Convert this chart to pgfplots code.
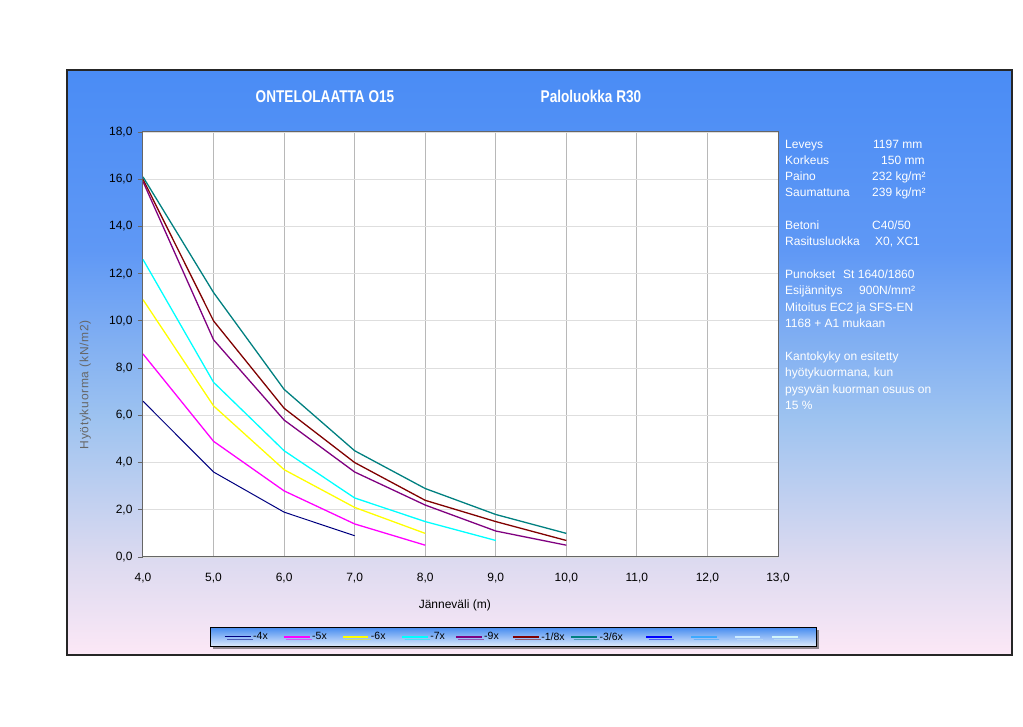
\documentclass[border=0pt]{standalone}
\usepackage{fontspec}
\setmainfont{Liberation Sans}
\usepackage{pgfplots}
\pgfplotsset{compat=1.18}
\usetikzlibrary{shadows}

\definecolor{cpink}{RGB}{252,232,246}
\definecolor{clav}{RGB}{220,218,240}
\definecolor{clb}{RGB}{158,195,240}
\definecolor{cmid}{RGB}{95,152,245}
\definecolor{ctop}{RGB}{74,140,245}
\pgfdeclareverticalshading{bgshade}{100bp}{color(0bp)=(cpink); color(25bp)=(cpink); color(33.1bp)=(clav); color(45.1bp)=(clb); color(59.6bp)=(cmid); color(75bp)=(ctop); color(100bp)=(ctop)}

\definecolor{c4x}{RGB}{0,0,128}
\definecolor{c5x}{RGB}{255,0,255}
\definecolor{c6x}{RGB}{255,255,0}
\definecolor{c7x}{RGB}{0,255,255}
\definecolor{c9x}{RGB}{128,0,128}
\definecolor{c18x}{RGB}{128,0,0}
\definecolor{c36x}{RGB}{0,128,128}
\definecolor{cex1}{RGB}{0,0,255}
\definecolor{cex2}{RGB}{60,170,255}
\definecolor{cex3}{RGB}{205,235,255}
\definecolor{cex4}{RGB}{210,245,250}
\definecolor{legtop}{RGB}{70,140,240}
\definecolor{legbot}{RGB}{225,236,252}

\begin{document}
\begin{tikzpicture}
\path[use as bounding box, fill=white] (0pt,0pt) rectangle (1023pt,726pt);
\path[shading=bgshade] (67pt,71pt) rectangle (1012pt,656pt);
\draw[line width=1.5pt, black!85] (67pt,71pt) rectangle (1012pt,656pt);

% titles
\node[text=white, font=\bfseries\fontsize{17}{19}\selectfont] at (325pt,629pt) {\scalebox{0.8}[1]{ONTELOLAATTA O15}};
\node[text=white, font=\bfseries\fontsize{17}{19}\selectfont] at (591pt,630pt) {\scalebox{0.8}[1]{Paloluokka R30}};

% info panel
\begin{scope}[every node/.style={text=white, font=\fontsize{12}{14}\selectfont, inner sep=0pt, anchor=base west}]
\node at (785pt,577.5pt) {Leveys};      \node at (873pt,577.5pt) {1197 mm};
\node at (785pt,561.5pt) {Korkeus};     \node at (881pt,561.5pt) {150 mm};
\node at (785pt,545.5pt) {Paino};       \node at (872pt,545.5pt) {232 kg/m²};
\node at (785pt,529.5pt) {Saumattuna};  \node at (872pt,529.5pt) {239 kg/m²};
\node at (785pt,496.5pt) {Betoni};      \node at (872pt,496.5pt) {C40/50};
\node at (785pt,480.5pt) {Rasitusluokka}; \node at (875pt,480.5pt) {X0, XC1};
\node at (785pt,447.5pt) {Punokset};    \node at (843pt,447.5pt) {St 1640/1860};
\node at (785pt,431.5pt) {Esijännitys}; \node at (859pt,431.5pt) {900N/mm²};
\node at (785pt,414.5pt) {Mitoitus EC2 ja SFS-EN};
\node at (785pt,398.5pt) {1168 + A1 mukaan};
\node at (785pt,365.5pt) {Kantokyky on esitetty};
\node at (785pt,349.5pt) {hyötykuormana, kun};
\node at (785pt,332.5pt) {pysyvän kuorman osuus on};
\node at (785pt,316.5pt) {15 \%};
\end{scope}

\begin{axis}[
  at={(143pt,169pt)}, anchor=south west,
  scale only axis, width=635pt, height=425pt,
  xmin=4, xmax=13, ymin=0, ymax=18,
  xtick={4,5,...,13}, ytick={0,2,...,18},
  ytick pos=left,
  grid=major,
  major x grid style={draw=black!28, line width=1pt},
  major y grid style={draw=black!13, line width=0.8pt},
  axis line style={draw=black!60, line width=1pt},
  axis background/.style={fill=white},
  tick align=outside, major tick length=5pt,
  xtick style={draw=none},
  ytick style={draw=black!60, line width=0.8pt},
  tick label style={font=\fontsize{12}{14}\selectfont},
  yticklabel style={xshift=-2pt},
  xticklabel style={yshift=-8pt},
  /pgf/number format/fixed, /pgf/number format/fixed zerofill,
  /pgf/number format/precision=1, /pgf/number format/use comma,
  /pgf/number format/assume math mode=true,
  xlabel={Jänneväli (m)},
  xlabel style={at={(axis description cs:0.491,-0.1129)}, anchor=center, font=\fontsize{12}{14}\selectfont},
  ylabel={Hyötykuorma (kN/m2)},
  ylabel style={at={(axis description cs:-0.091,0.405)}, anchor=center, text=black!60, font=\fontsize{12}{14}\selectfont\addfontfeature{LetterSpace=6}},
  legend columns=11,
  legend image code/.code={\draw[#1] (0pt,0pt) -- (25.7pt,0pt);},
  legend style={at={(0.1055,-0.1882)}, anchor=west, draw=black, line width=1pt,
    top color=legtop, bottom color=legbot,
    drop shadow={shadow xshift=2.5pt, shadow yshift=-2.5pt, fill=black!85},
    inner xsep=14pt, inner ysep=3pt,
    font=\fontsize{10.5}{12}\selectfont,
    /tikz/every even column/.append style={column sep=0pt}},
]
\addplot[c4x, line width=1pt] coordinates {(4,6.6) (5,3.6) (6,1.9) (7,0.9)};
\addlegendentry{\makebox[28pt][l]{-4x}}
\addplot[c5x, line width=1.3pt] coordinates {(4,8.6) (5,4.9) (6,2.8) (7,1.4) (8,0.5)};
\addlegendentry{\makebox[27.8pt][l]{-5x}}
\addplot[c6x, line width=1.3pt] coordinates {(4,10.9) (5,6.4) (6,3.7) (7,2.1) (8,1.0)};
\addlegendentry{\makebox[28.4pt][l]{-6x}}
\addplot[c7x, line width=1.3pt] coordinates {(4,12.6) (5,7.4) (6,4.5) (7,2.5) (8,1.5) (9,0.7)};
\addlegendentry{\makebox[22.8pt][l]{-7x}}
\addplot[c9x, line width=1.3pt] coordinates {(4,15.9) (5,9.2) (6,5.8) (7,3.6) (8,2.2) (9,1.1) (10,0.5)};
\addlegendentry{\makebox[26.1pt][l]{-9x}}
\addplot[c18x, line width=1.3pt] coordinates {(4,16.0) (5,10.0) (6,6.3) (7,4.0) (8,2.4) (9,1.5) (10,0.7)};
\addlegendentry{\makebox[27.3pt][l]{-1/8x}}
\addplot[c36x, line width=1.3pt] coordinates {(4,16.1) (5,11.2) (6,7.1) (7,4.5) (8,2.9) (9,1.8) (10,1.0)};
\addlegendentry{\makebox[43.8pt][l]{-3/6x}}
\addlegendimage{cex1, line width=1.3pt}
\addlegendentry{\makebox[14.2pt]{}}
\addlegendimage{cex2, line width=1.3pt}
\addlegendentry{\makebox[12.3pt]{}}
\addlegendimage{cex3, line width=1.3pt}
\addlegendentry{\makebox[6.3pt]{}}
\addlegendimage{cex4, line width=1.3pt}
\addlegendentry{\makebox[0pt]{}}
\end{axis}
\end{tikzpicture}
\end{document}
